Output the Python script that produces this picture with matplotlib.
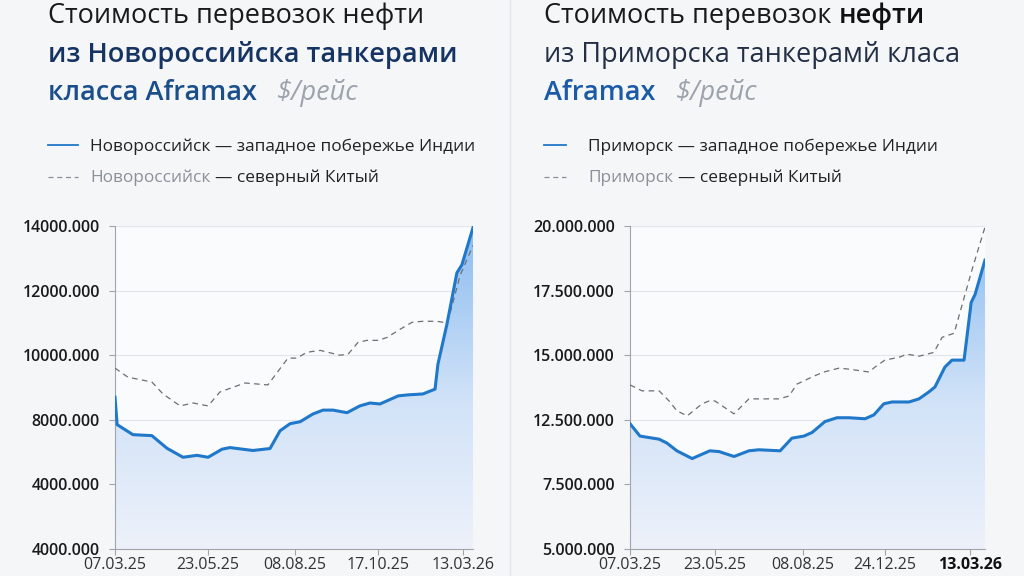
import numpy as np
import matplotlib.pyplot as plt
from matplotlib.colors import LinearSegmentedColormap

plt.rcParams['font.family'] = ['Open Sans', 'DejaVu Sans']

# ---- data (x = position along the timeline, 0..100) ----
nov_india_x = [0, 0.6, 5.0, 10.3, 14.5, 19.0, 22.9, 26.0, 29.9, 32.1, 38.5, 43.3,
               46.1, 48.9, 51.7, 55.3, 58.1, 60.9, 64.8, 68.4, 71.2, 74.0, 79.1,
               81.6, 86.0, 89.4, 90.2, 92.7, 95.5, 96.9, 100]
nov_india_y = [8700, 7850, 7540, 7510, 7120, 6840, 6900, 6840, 7090, 7140, 7050, 7110,
               7660, 7880, 7940, 8180, 8300, 8300, 8220, 8430, 8520, 8490, 8740,
               8770, 8800, 8950, 9720, 10950, 12550, 12800, 13950]
nov_china_x = [0, 3.6, 10.3, 13.4, 18.2, 21.8, 26.0, 29.3, 36.3, 42.7, 48.3, 50.8,
               53.6, 57.3, 62.8, 65.1, 67.9, 70.4, 73.5, 76.0, 79.6, 83.0, 86.0,
               89.9, 92.7, 93.6, 96.4, 100]
nov_china_y = [9600, 9320, 9170, 8800, 8430, 8520, 8430, 8860, 9140, 9080, 9910, 9910,
               10090, 10150, 10000, 10030, 10400, 10460, 10460, 10550, 10800, 11020, 11050,
               11050, 11000, 11300, 12470, 13400]

pri_india_x = [0, 2.8, 8.2, 10.4, 13.2, 17.5, 22.5, 25.1, 29.3, 33.5, 36.3, 42.3,
               45.6, 49.0, 51.3, 54.9, 58.3, 61.7, 66.2, 68.7, 71.5, 73.8, 78.6,
               81.4, 84.2, 85.9, 88.7, 90.7, 94.1, 96.1, 97.2, 100]
pri_india_y = [12350, 11870, 11750, 11600, 11300, 11000, 11300, 11270, 11080, 11300, 11340, 11300,
               11790, 11870, 12010, 12430, 12580, 12580, 12540, 12690, 13120, 13190, 13190,
               13310, 13580, 13770, 14540, 14810, 14810, 17040, 17350, 18680]
pri_china_x = [0, 3.4, 8.2, 11.0, 13.2, 16.1, 20.3, 22.3, 23.9, 29.3, 33.5, 36.6,
               42.0, 44.8, 47.0, 51.8, 54.6, 58.9, 61.7, 67.3, 69.0, 71.8, 75.8,
               78.0, 81.4, 85.6, 87.9, 91.3, 96.3, 100]
pri_china_y = [13850, 13620, 13620, 13230, 12850, 12650, 13120, 13230, 13230, 12730, 13310, 13310,
               13310, 13420, 13880, 14190, 14350, 14500, 14460, 14350, 14540, 14810, 14920,
               15040, 14960, 15110, 15690, 15850, 18290, 19960]

nov_yticks = [4000, 6000, 8000, 10000, 12000, 14000]
nov_ylabels = ['4000.000', '4000.000', '8000.000', '10000.000', '12000.000', '14000.000']
pri_yticks = [7500, 10000, 12500, 15000, 17500, 20000]
pri_ylabels = ['5.000.000', '7.500.000', '12.500.000', '15.000.000', '17.500.000', '20.000.000']

nov_xticks = [0, 26.0, 50.3, 73.5, 97.2]
nov_xlabels = ['07.03.25', '23.05.25', '08.08.25', '17.10.25', '13.03.26']
pri_xticks = [0, 23.9, 48.7, 71.8, 95.8]
pri_xlabels = ['07.03.25', '23.05.25', '08.08.25', '24.12.25', '13.03.26']

BLUE = '#1f78c9'
W, H = 1024, 576

fig = plt.figure(figsize=(W / 100, H / 100), dpi=100)
fig.patch.set_facecolor('#f5f6f8')

# background axes in pixel coords for titles / legends
bg = fig.add_axes([0, 0, 1, 1], zorder=0)
bg.set_xlim(0, W)
bg.set_ylim(H, 0)
bg.axis('off')
bg.plot([510, 510], [0, H], color='#e4e6ea', lw=1)

fill_cmap = LinearSegmentedColormap.from_list(
    'fill', [(0, '#edf1fa'), (0.45, '#d2e3f8'), (1, '#8cbcf0')])


def write_line(x, y, parts, size):
    prev = None
    for s, color, weight, style, gap in parts:
        if prev is None:
            prev = bg.text(x, y, s, fontsize=size, color=color, weight=weight,
                           style=style, va='baseline', ha='left')
        else:
            prev = bg.annotate(s, xy=(1, 0), xycoords=prev, xytext=(gap, 0),
                               textcoords='offset points', fontsize=size, color=color,
                               weight=weight, style=style, va='bottom', ha='left')


def chart(left, right, xs, ys, xc, yc, yticks, ylabels, xticks, xlabels, bold_last):
    ax = fig.add_axes([left / W, 1 - 549 / H, (right - left) / W, (549 - 226) / H], zorder=2)
    ax.set_facecolor('#fafbfc')
    lo, hi = yticks[0], yticks[-1]
    poly = ax.fill_between(xs, ys, lo, facecolor='none', edgecolor='none')
    grad = np.linspace(0, 1, 256).reshape(-1, 1)
    im = ax.imshow(grad, origin='lower', extent=[0, 100, lo, hi], aspect='auto',
                   cmap=fill_cmap, zorder=1)
    im.set_clip_path(poly.get_paths()[0], transform=ax.transData)
    ax.plot(xc, yc, color='#6b6e73', lw=0.9, dashes=(4.5, 3.5), zorder=3)
    ax.plot(xs, ys, color=BLUE, lw=2.2, solid_joinstyle='round', zorder=4)
    ax.set_xlim(0, 100)
    ax.set_ylim(lo, hi)
    ax.set_yticks(yticks)
    ax.set_yticklabels(ylabels)
    ax.set_xticks(xticks)
    ax.set_xticklabels(xlabels)
    ax.grid(axis='y', color='#e3e5e9', lw=0.8)
    ax.set_axisbelow(True)
    for s in ['top', 'right']:
        ax.spines[s].set_visible(False)
    for s in ['left', 'bottom']:
        ax.spines[s].set_color('#a0a4ab')
    ax.tick_params(axis='y', length=4.3, color='#a0a4ab', pad=6.5, labelsize=11.5,
                   labelcolor='#1a1a1a')
    ax.tick_params(axis='x', length=4.5, color='#a0a4ab', pad=1.5, labelsize=11.5,
                   labelcolor='#333333')
    for t in ax.get_yticklabels():
        t.set_fontweight('semibold')
    if bold_last:
        ax.get_xticklabels()[-1].set_fontweight('bold')
        ax.get_xticklabels()[-1].set_color('#111111')
    return ax


chart(115, 473, nov_india_x, nov_india_y, nov_china_x, nov_china_y,
      nov_yticks, nov_ylabels, nov_xticks, nov_xlabels, False)
chart(630, 985, pri_india_x, pri_india_y, pri_china_x, pri_china_y,
      pri_yticks, pri_ylabels, pri_xticks, pri_xlabels, True)

TS = 19.5
# left titles
write_line(48, 23, [('Стоимость перевозок нефти', '#1a1a1a', 'medium', 'normal', 0)], TS)
write_line(48, 62, [('из Новороссийска танкерами', '#163463', 'semibold', 'normal', 0)], TS)
write_line(48, 100, [('класса Aframax', '#1a4f8c', 'semibold', 'normal', 0),
                     ('$/рейс', '#9ca3ad', 'normal', 'italic', 14)], TS)
# right titles
write_line(544, 23, [('Стоимость перевозок', '#1a1a1a', 'normal', 'normal', 0),
                     ('нефти', '#111111', 'semibold', 'normal', 5.5)], TS)
write_line(544, 62, [('из Приморска танкерамй класа', '#232f45', 'normal', 'normal', 0)], TS)
write_line(544, 100, [('Aframax', '#1b5aa6', 'semibold', 'normal', 0),
                      ('$/рейс', '#9ca3ad', 'normal', 'italic', 14)], TS)

# legends
LS = 12.4
bg.plot([48, 78], [145, 145], color=BLUE, lw=1.3)
bg.plot([48, 78], [177, 177], color='#8a8e95', lw=0.9, dashes=(4, 3))
write_line(90, 151, [('Новороссийск — западное побережье Индии', '#222222', 'medium', 'normal', 0)], LS)
write_line(90, 182, [('Новороссийск', '#8a8f99', 'normal', 'normal', 0),
                     ('— северный Китый', '#222222', 'medium', 'normal', 3.5)], LS)
bg.plot([544, 566], [145, 145], color=BLUE, lw=1.3)
bg.plot([544, 566], [177, 177], color='#8a8e95', lw=0.9, dashes=(4, 3))
write_line(588, 151, [('Приморск — западное побережье Индии', '#222222', 'medium', 'normal', 0)], LS)
write_line(588, 182, [('Приморск', '#8a8f99', 'normal', 'normal', 0),
                      ('— северный Китый', '#222222', 'medium', 'normal', 3.5)], LS)

fig.savefig('out.png', dpi=100, facecolor=fig.get_facecolor())
